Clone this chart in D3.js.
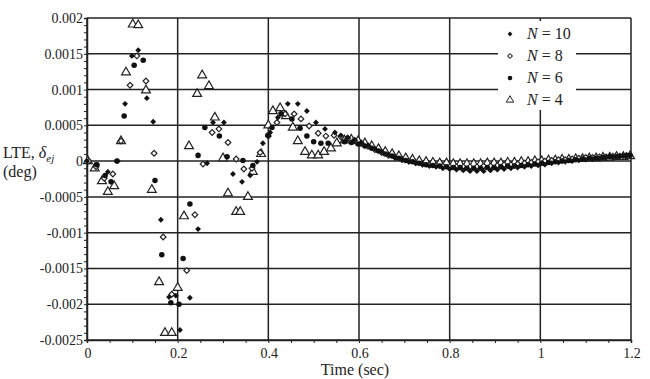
<!DOCTYPE html>
<html>
<head>
<meta charset="utf-8">
<script src="https://cdn.jsdelivr.net/npm/d3@7"></script>
<style>
  body { margin: 0; background: #fff; }
  text { font-family: "Liberation Serif", "Times New Roman", serif; fill: #222; }
</style>
</head>
<body>
<div id="chart"></div>
<script>
var width = 650,
    height = 379;

// ---- data ----
var xTicks = [0, 0.2, 0.4, 0.6, 0.8, 1, 1.2];
var yTicks = [-0.0025, -0.002, -0.0015, -0.001, -0.0005, 0, 0.0005, 0.001, 0.0015, 0.002];
var yTickLabels = ["-0.0025", "-0.002", "-0.0015", "-0.001", "-0.0005", "0", "0.0005", "0.001", "0.0015", "0.002"];
var seriesNames = ["N=10", "N=8", "N=6", "N=4"];

// early part of each run (time, LTE)
var n10Early = [[0,0],[0.02,-0.00005],[0.046,-0.00015],[0.068,0],[0.084,0.0008],[0.099,0.00147],[0.113,0.00155],
  [0.132,0.00088],[0.146,0.00055],[0.163,-0.00082],[0.181,-0.0019],[0.196,-0.00188],[0.205,-0.00236],[0.227,-0.00191],
  [0.245,-0.00095],[0.265,-0.00003],[0.278,0.00054],[0.302,0.00054],[0.322,-0.00018],[0.342,-0.00029],[0.36,-0.0002],
  [0.375,-0.00001],[0.388,0.00025],[0.404,0.0004],[0.421,0.00061],[0.443,0.0008],[0.465,0.0008],[0.485,0.0007],
  [0.505,0.00054],[0.525,0.00045],[0.547,0.0004]];
var n8Early = [[0.004,0],[0.02,-0.00008],[0.038,-0.00024],[0.057,-0.00018],[0.075,0.00028],[0.095,0.00106],[0.11,0.00147],
  [0.13,0.00112],[0.148,0.00011],[0.168,-0.00106],[0.187,-0.00186],[0.22,-0.00153],[0.238,-0.00075],[0.256,-0.00004],
  [0.276,0.0004],[0.291,0.00045],[0.311,0.00026],[0.329,0.00003],[0.346,-0.00011],[0.364,-0.0001],[0.382,0.00012],
  [0.4,0.00035],[0.419,0.00054],[0.437,0.00066],[0.457,0.00066],[0.472,0.00059],[0.49,0.00049],[0.51,0.00039],
  [0.527,0.00035],[0.545,0.00036]];
var n6Early = [[0.022,-0.00005],[0.04,-0.0002],[0.053,-0.00029],[0.066,0],[0.082,0.00063],[0.104,0.00134],[0.124,0.00141],
  [0.15,-0.00027],[0.165,-0.00131],[0.185,-0.00198],[0.203,-0.002],[0.212,-0.00136],[0.227,-0.0006],[0.245,0.00008],
  [0.26,0.00047],[0.292,0.00035],[0.309,0.00006],[0.344,0.00001],[0.366,-0.00006],[0.399,0.00036],[0.408,0.00047],
  [0.428,0.00066],[0.452,0.00059],[0.47,0.00046],[0.485,0.00035],[0.5,0.00027],[0.516,0.00025],[0.532,0.00025]];
var n4Early = [[0.002,0],[0.017,-0.0001],[0.033,-0.00028],[0.046,-0.00043],[0.06,-0.00035],[0.075,0.00028],[0.086,0.00124],
  [0.101,0.00191],[0.113,0.0019],[0.13,0.00099],[0.143,-0.0004],[0.159,-0.00169],[0.172,-0.0024],[0.187,-0.0024],
  [0.2,-0.00177],[0.214,-0.00077],[0.225,0.00021],[0.243,0.00094],[0.254,0.0012],[0.269,0.00105],[0.282,0.00061],
  [0.3,0.00004],[0.311,-0.00045],[0.329,-0.00071],[0.338,-0.00071],[0.355,-0.0005],[0.366,-0.00015],[0.384,0.0001],
  [0.4,0.0005],[0.41,0.0007],[0.426,0.00074],[0.439,0.00063],[0.454,0.00047],[0.465,0.00028],[0.481,0.00013],
  [0.496,0.00008],[0.51,0.00008],[0.523,0.00013],[0.538,0.00018],[0.551,0.00025]];

// settling tail, sample times and values
var tailTimeA = [0.56,0.575,0.59,0.605,0.62,0.635,0.65,0.665,0.68,0.695,0.71,0.725,0.74,0.755,0.77,0.785,0.8,0.815,0.83,0.845,
  0.86,0.875,0.89,0.905,0.92,0.935,0.95,0.965,0.98,0.995,1.01,1.025,1.04,1.055,1.07,1.085,1.1,1.115,1.13,1.145,1.16,1.175,1.19];
var tailTimeB = [0.568,0.583,0.598,0.613,0.628,0.643,0.658,0.673,0.688,0.703,0.718,0.733,0.748,0.763,0.778,0.793,0.808,0.823,
  0.838,0.853,0.868,0.883,0.898,0.913,0.928,0.943,0.958,0.973,0.988,1.003,1.018,1.033,1.048,1.063,1.078,1.093,1.108,1.123,
  1.138,1.153,1.168,1.183,1.198];
var n10Tail = [0.00036,0.00033,0.0003,0.00026,0.00022,0.00017,0.00013,0.00009,0.00005,0.00002,-0.00001,-0.00003,-0.00005,
  -0.00007,-0.00008,-0.0001,-0.00011,-0.00012,-0.00013,-0.00014,-0.00014,-0.00014,-0.00013,-0.00012,-0.00011,-0.0001,-0.00009,
  -0.00008,-0.00007,-0.00006,-0.00005,-0.00003,-0.00002,-0.00001,0,0.00001,0.00002,0.00003,0.00004,0.00005,0.00006,0.00007,0.00008];
var n8Tail = [0.00034,0.00032,0.00029,0.00025,0.00021,0.00016,0.00012,0.00008,0.00005,0.00002,0,-0.00002,-0.00004,-0.00005,
  -0.00006,-0.00007,-0.00008,-0.00008,-0.00008,-0.00008,-0.00008,-0.00007,-0.00007,-0.00006,-0.00005,-0.00005,-0.00004,-0.00003,
  -0.00002,-0.00001,0,0.00001,0.00002,0.00002,0.00003,0.00004,0.00005,0.00005,0.00006,0.00006,0.00007,0.00007,0.00008];
var n6Tail = [0.00027,0.00026,0.00024,0.00021,0.00018,0.00014,0.0001,0.00007,0.00004,0.00001,-0.00001,-0.00003,-0.00005,-0.00006,
  -0.00007,-0.00008,-0.00009,-0.00009,-0.0001,-0.0001,-0.0001,-0.00009,-0.00009,-0.00008,-0.00007,-0.00007,-0.00006,-0.00005,
  -0.00004,-0.00003,-0.00002,-0.00001,0,0.00001,0.00002,0.00003,0.00004,0.00004,0.00005,0.00006,0.00006,0.00007,0.00008];
var n4Tail = [0.00029,0.0003,0.00028,0.00025,0.00021,0.00017,0.00013,0.0001,0.00007,0.00004,0.00002,0,-0.00001,-0.00002,
  -0.00003,-0.00003,-0.00004,-0.00004,-0.00004,-0.00004,-0.00004,-0.00003,-0.00003,-0.00003,-0.00002,-0.00002,-0.00001,-0.00001,
  0,0,0.00001,0.00001,0.00002,0.00002,0.00003,0.00003,0.00004,0.00004,0.00005,0.00005,0.00006,0.00006,0.00007];

// ---- layout ----
var plotL = 87, plotR = 631, plotT = 18, plotB = 340;

var x = d3.scaleLinear().domain([0, 1.2]).range([plotL, plotR]);
var y = d3.scaleLinear().domain([-0.0025, 0.002]).range([plotB, plotT]);

var svg = d3.select("#chart")
    .append("svg")
    .attr("width", width)
    .attr("height", height);

svg.append("rect")
    .attr("width", width)
    .attr("height", height)
    .style("fill", "white");

// grid
svg.append("g").selectAll("line")
    .data(yTicks)
    .enter().append("line")
    .attr("x1", plotL).attr("x2", plotR)
    .attr("y1", d => y(d)).attr("y2", d => y(d))
    .style("stroke", "#222")
    .style("stroke-width", 1.5);

svg.append("g").selectAll("line")
    .data(xTicks)
    .enter().append("line")
    .attr("x1", d => x(d)).attr("x2", d => x(d))
    .attr("y1", plotT).attr("y2", plotB)
    .style("stroke", "#222")
    .style("stroke-width", 1.5);

// axes with minor ticks
var yAxis = d3.axisLeft(y)
    .tickValues(d3.range(-25, 21).map(d => d / 10000))
    .tickSize(3)
    .tickFormat("");
svg.append("g")
    .attr("transform", "translate(" + plotL + ",0)")
    .call(yAxis)
    .call(g => g.selectAll("line").style("stroke", "#222"))
    .call(g => g.select(".domain").style("stroke", "#222").style("stroke-width", 1.5));

var xAxis = d3.axisBottom(x)
    .tickValues(d3.range(0, 25).map(d => d * 0.05))
    .tickSize(3)
    .tickFormat("");
svg.append("g")
    .attr("transform", "translate(0," + plotB + ")")
    .call(xAxis)
    .call(g => g.selectAll("line").style("stroke", "#222"))
    .call(g => g.select(".domain").style("stroke", "#222").style("stroke-width", 1.5));

// tick labels
svg.append("g").selectAll("text")
    .data(yTicks)
    .enter().append("text")
    .attr("x", plotL - 4)
    .attr("y", d => y(d) + 5)
    .attr("text-anchor", "end")
    .style("font-size", "14px")
    .text((d, i) => yTickLabels[i]);

svg.append("g").selectAll("text")
    .data(xTicks)
    .enter().append("text")
    .attr("x", d => x(d) + 1)
    .attr("y", plotB + 18)
    .attr("text-anchor", "middle")
    .style("font-size", "14px")
    .text(d => d);

svg.append("text")
    .attr("x", 355)
    .attr("y", 375)
    .attr("text-anchor", "middle")
    .style("font-size", "16px")
    .text("Time (sec)");

var yl = svg.append("text")
    .attr("x", 3)
    .attr("y", 158)
    .style("font-size", "16px");
yl.append("tspan").text("LTE, ");
yl.append("tspan").style("font-style", "italic").text("δ");
yl.append("tspan").style("font-style", "italic").style("font-size", "11px").attr("dy", 4).text("ej");

svg.append("text")
    .attr("x", 3)
    .attr("y", 177)
    .style("font-size", "16px")
    .text("(deg)");

// markers: diamonds are squares turned 45 degrees
var markerOf = [
    {type: d3.symbolSquare, size: 17, rot: 45, fill: "#111", stroke: "none"},
    {type: d3.symbolSquare, size: 16, rot: 45, fill: "white", stroke: "#222"},
    {type: d3.symbolCircle, size: 24, rot: 0, fill: "#111", stroke: "none"},
    {type: d3.symbolTriangle, size: 34, rot: 0, fill: "white", stroke: "#222"}
];

var runs = [
    n10Early.concat(d3.zip(tailTimeA, n10Tail)),
    n8Early.concat(d3.zip(tailTimeA, n8Tail)),
    n6Early.concat(d3.zip(tailTimeB, n6Tail)),
    n4Early.concat(d3.zip(tailTimeB, n4Tail))
];

// draw the N=4 triangles first so the filled marks sit on top
[3, 1, 2, 0].forEach(function(s) {
    var m = markerOf[s];
    svg.append("g").selectAll("path")
        .data(runs[s])
        .enter().append("path")
        .attr("transform", d => "translate(" + x(d[0]) + "," + y(d[1]) + ") rotate(" + m.rot + ")")
        .attr("d", d3.symbol().type(m.type).size(m.size))
        .style("fill", m.fill)
        .style("stroke", m.stroke)
        .style("stroke-width", 1.2);
});

// legend
var legend = svg.append("g");
legend.append("rect")
    .attr("x", 498).attr("y", 21)
    .attr("width", 78).attr("height", 89)
    .style("fill", "white");

seriesNames.forEach(function(name, i) {
    var m = markerOf[i];
    var ly = 34 + i * 22;
    legend.append("path")
        .attr("transform", "translate(510," + ly + ") rotate(" + m.rot + ")")
        .attr("d", d3.symbol().type(m.type).size(m.size * 0.7))
        .style("fill", m.fill)
        .style("stroke", m.stroke)
        .style("stroke-width", 1);
    var t = legend.append("text")
        .attr("x", 527)
        .attr("y", ly + 5)
        .style("font-size", "16px");
    t.append("tspan").style("font-style", "italic").text("N");
    t.append("tspan").text(" = " + name.split("=")[1]);
});
</script>
</body>
</html>
